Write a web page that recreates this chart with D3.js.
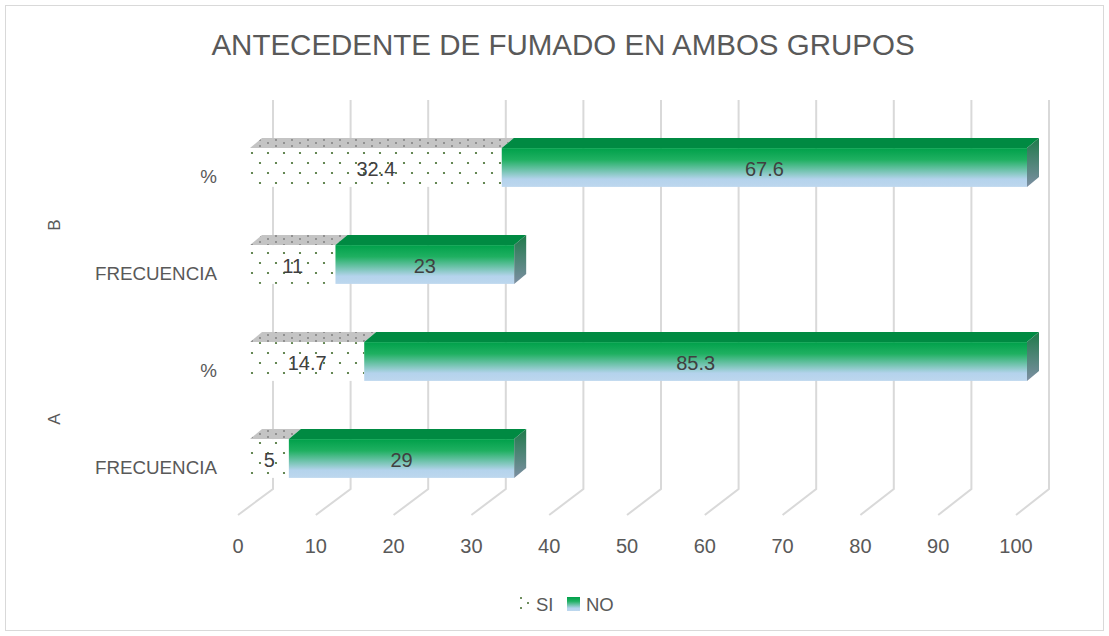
<!DOCTYPE html>
<html>
<head>
<meta charset="utf-8">
<script src="https://cdn.jsdelivr.net/npm/d3@7"></script>
<style>
  body { margin: 0; background: #fff; }
  svg { display: block; font-family: "Liberation Sans", Arial, sans-serif; }
</style>
</head>
<body>
<div class="chart-container"></div>
<script>
// data, bottom row first
const groups = ["A", "A", "B", "B"];
const categories = ["FRECUENCIA", "%", "FRECUENCIA", "%"];
const siValues = [5, 14.7, 11, 32.4];
const noValues = [29, 85.3, 23, 67.6];
const seriesNames = ["SI", "NO"];
const xTicks = [0, 10, 20, 30, 40, 50, 60, 70, 80, 90, 100];

const w = 1109;
const h = 636;

const svg = d3
  .select(".chart-container")
  .append("svg")
  .attr("width", w)
  .attr("height", h);

const defs = svg.append("defs");

// dotted pattern for SI front face
const dots = defs.append("pattern")
  .attr("id", "dots")
  .attr("patternUnits", "userSpaceOnUse")
  .attr("width", 16).attr("height", 20);
dots.append("rect").attr("width", 16).attr("height", 20).attr("fill", "#fff");
dots.append("circle").attr("cx", 4).attr("cy", 3).attr("r", 1.1).attr("fill", "#3f6a2a");
dots.append("circle").attr("cx", 12).attr("cy", 13).attr("r", 1.1).attr("fill", "#3f6a2a");

// smaller version for the legend key
const dotsKey = defs.append("pattern")
  .attr("id", "dotsKey")
  .attr("patternUnits", "userSpaceOnUse")
  .attr("width", 14).attr("height", 10)
  .attr("x", 518).attr("y", 596);
dotsKey.append("rect").attr("width", 14).attr("height", 10).attr("fill", "#fff");
dotsKey.append("circle").attr("cx", 3).attr("cy", 2).attr("r", 1).attr("fill", "#3f6a2a");
dotsKey.append("circle").attr("cx", 10).attr("cy", 7).attr("r", 1).attr("fill", "#3f6a2a");

const dotsTop = defs.append("pattern")
  .attr("id", "dotsTop")
  .attr("patternUnits", "userSpaceOnUse")
  .attr("width", 16).attr("height", 6);
dotsTop.append("rect").attr("width", 16).attr("height", 6).attr("fill", "#c4c4c4");
dotsTop.append("circle").attr("cx", 4).attr("cy", 2).attr("r", 0.9).attr("fill", "#7a7a7a");
dotsTop.append("circle").attr("cx", 12).attr("cy", 5).attr("r", 0.9).attr("fill", "#7a7a7a");

// green to light blue gradient for NO
const gFront = defs.append("linearGradient")
  .attr("id", "noFront").attr("x1", 0).attr("y1", 0).attr("x2", 0).attr("y2", 1);
gFront.append("stop").attr("offset", "0%").attr("stop-color", "#00a04a");
gFront.append("stop").attr("offset", "30%").attr("stop-color", "#1fb061");
gFront.append("stop").attr("offset", "80%").attr("stop-color", "#b4d3ec");
gFront.append("stop").attr("offset", "100%").attr("stop-color", "#bdd7ee");

const gSide = defs.append("linearGradient")
  .attr("id", "noSide").attr("x1", 0).attr("y1", 0).attr("x2", 0).attr("y2", 1);
gSide.append("stop").attr("offset", "0%").attr("stop-color", "#1f7a4a");
gSide.append("stop").attr("offset", "100%").attr("stop-color", "#7d8fa3");

// scales: back wall, front floor edge and bar front face
const xBack = d3.scaleLinear().domain([0, 100]).range([273, 1049]);
const xFront = d3.scaleLinear().domain([0, 100]).range([238, 1016]);
const xBar = d3.scaleLinear().domain([0, 100]).range([250, 1027]);

const rows = d3.range(groups.length);
const yScale = d3.scaleBand()
  .domain(rows.slice().reverse())
  .range([119, 507])
  .paddingInner(0.6)
  .paddingOuter(0.3);

const depthX = 12, depthY = -10;

// border
svg.append("rect")
  .attr("x", 5.5).attr("y", 5.5)
  .attr("width", w - 11).attr("height", h - 11)
  .attr("fill", "none").attr("stroke", "#d9d9d9");

// title
svg.append("text")
  .attr("x", 563).attr("y", 55)
  .attr("text-anchor", "middle")
  .attr("font-size", 29.5)
  .attr("fill", "#595959")
  .text("ANTECEDENTE DE FUMADO EN AMBOS GRUPOS");

// 3D gridlines: back wall vertical + floor diagonal
const grid = svg.append("g").attr("stroke", "#d9d9d9").attr("stroke-width", 2).attr("fill", "none");
grid.selectAll("path")
  .data(xTicks)
  .enter()
  .append("path")
  .attr("d", (d) => `M${xBack(d)},100 L${xBack(d)},489 L${xFront(d)},515`);

// x axis labels
svg.append("g")
  .selectAll("text")
  .data(xTicks)
  .enter()
  .append("text")
  .attr("x", (d) => xFront(d))
  .attr("y", 553)
  .attr("text-anchor", "middle")
  .attr("font-size", 20)
  .attr("fill", "#595959")
  .text((d) => d);

// category labels
svg.append("g")
  .selectAll("text")
  .data(rows)
  .enter()
  .append("text")
  .attr("x", 217)
  .attr("y", (i) => yScale(i) + yScale.bandwidth() / 2 + 15)
  .attr("text-anchor", "end")
  .attr("font-size", 18.8)
  .attr("fill", "#595959")
  .text((i) => categories[i]);

// group labels
const groupNames = Array.from(new Set(groups));
svg.append("g")
  .selectAll("text")
  .data(groupNames)
  .enter()
  .append("text")
  .attr("transform", (g) => {
    const idx = rows.filter((i) => groups[i] === g);
    const yc = d3.mean(idx, (i) => yScale(i) + yScale.bandwidth() / 2) + 9;
    return `translate(60,${yc}) rotate(-90)`;
  })
  .attr("text-anchor", "middle")
  .attr("font-size", 17)
  .attr("fill", "#595959")
  .text((g) => g);

// bars
const bh = yScale.bandwidth();
const bars = svg.append("g");
rows.forEach((i) => {
  const y0 = yScale(i);
  const segs = [
    { name: "SI", a: 0, b: siValues[i], v: siValues[i] },
    { name: "NO", a: siValues[i], b: siValues[i] + noValues[i], v: noValues[i] },
  ];
  segs.forEach((s) => {
    const x0 = xBar(s.a), x1 = xBar(s.b);
    // top face
    bars.append("path")
      .attr("d", `M${x0},${y0} L${x0 + depthX},${y0 + depthY} L${x1 + depthX},${y0 + depthY} L${x1},${y0} Z`)
      .attr("fill", s.name === "SI" ? "url(#dotsTop)" : "#008a42");
    // front face
    bars.append("rect")
      .attr("x", x0).attr("y", y0)
      .attr("width", x1 - x0).attr("height", bh)
      .attr("fill", s.name === "SI" ? "url(#dots)" : "url(#noFront)");
  });
  // right side face
  const xe = xBar(siValues[i] + noValues[i]);
  bars.append("path")
    .attr("d", `M${xe},${y0} L${xe + depthX},${y0 + depthY} L${xe + depthX},${y0 + depthY + bh} L${xe},${y0 + bh} Z`)
    .attr("fill", "url(#noSide)");

  // data labels
  segs.forEach((s) => {
    bars.append("text")
      .attr("x", (xBar(s.a) + xBar(s.b)) / 2)
      .attr("y", y0 + bh / 2 + 8)
      .attr("text-anchor", "middle")
      .attr("font-size", 20)
      .attr("fill", "#404040")
      .text(s.v);
  });
});

// legend
const legend = svg.append("g");
legend.append("rect")
  .attr("x", 518).attr("y", 596).attr("width", 12).attr("height", 13)
  .attr("fill", "url(#dotsKey)");
legend.append("text")
  .attr("x", 536).attr("y", 611)
  .attr("font-size", 18.5).attr("fill", "#595959")
  .text(seriesNames[0]);
legend.append("rect")
  .attr("x", 567).attr("y", 597).attr("width", 13).attr("height", 14)
  .attr("fill", "url(#noFront)");
legend.append("text")
  .attr("x", 586).attr("y", 611)
  .attr("font-size", 18.5).attr("fill", "#595959")
  .text(seriesNames[1]);
</script>
</body>
</html>
